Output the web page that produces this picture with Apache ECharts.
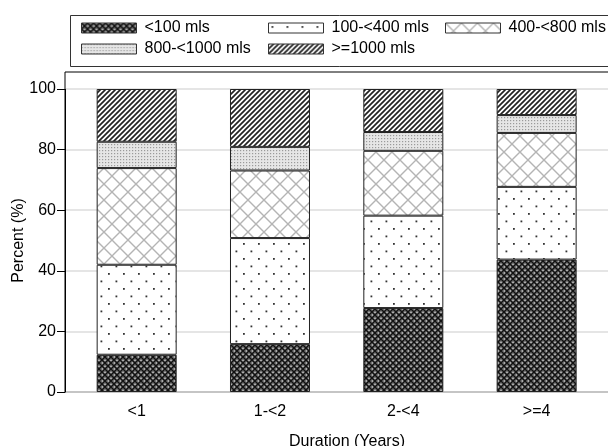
<!DOCTYPE html>
<html>
<head>
<meta charset="utf-8">
<script src="https://cdn.jsdelivr.net/npm/echarts@6/dist/echarts.min.js"></script>
<style>
  html, body { margin: 0; padding: 0; background: #fff; }
  #chart { width: 608px; height: 446px; }
</style>
</head>
<body>
<div id="chart"></div>
<script>
var categories = ["<1", "1-<2", "2-<4", ">=4"];
var seriesNames = ["<100 mls", "100-<400 mls", "400-<800 mls", "800-<1000 mls", ">=1000 mls"];
var lt100 = [12.3, 15.8, 27.7, 43.7];
var r100to400 = [29.7, 35.0, 30.5, 24.0];
var r400to800 = [31.9, 22.3, 21.4, 17.8];
var r800to1000 = [8.7, 7.8, 6.2, 5.9];
var ge1000 = [17.4, 19.1, 14.2, 8.6];
var yTicks = [0, 20, 40, 60, 80, 100];

// small canvas tiles used as fill patterns
function tile(w, h, draw) {
  var c = document.createElement("canvas");
  c.width = w;
  c.height = h;
  var ctx = c.getContext("2d");
  ctx.fillStyle = "#fff";
  ctx.fillRect(0, 0, w, h);
  draw(ctx);
  return { image: c, repeat: "repeat" };
}

var patCross = tile(6, 6, function(ctx) {
  ctx.fillStyle = "#777";
  ctx.fillRect(0, 0, 6, 6);
  ctx.strokeStyle = "#111";
  ctx.lineWidth = 1.4;
  ctx.beginPath();
  ctx.moveTo(0, 0); ctx.lineTo(6, 6);
  ctx.moveTo(6, 0); ctx.lineTo(0, 6);
  ctx.stroke();
  ctx.fillStyle = "#e0e0e0";
  ctx.fillRect(2.5, 0, 1, 1);
  ctx.fillRect(0, 2.5, 1, 1);
});
var patDots = tile(15, 15, function(ctx) {
  ctx.fillStyle = "#333";
  ctx.fillRect(3, 3, 1.8, 1.8);
  ctx.fillRect(10.5, 10.5, 1.8, 1.8);
});
var patLattice = tile(16, 16, function(ctx) {
  ctx.strokeStyle = "#b4b4b4";
  ctx.lineWidth = 1.4;
  ctx.beginPath();
  ctx.moveTo(0, 0); ctx.lineTo(16, 16);
  ctx.moveTo(16, 0); ctx.lineTo(0, 16);
  ctx.stroke();
});
var patFine = tile(3, 3, function(ctx) {
  ctx.fillStyle = "#e6e6e6";
  ctx.fillRect(0, 0, 3, 3);
  ctx.fillStyle = "#9a9a9a";
  ctx.fillRect(0, 0, 1.2, 1.2);
});
var patHatch = tile(5, 5, function(ctx) {
  ctx.strokeStyle = "#222";
  ctx.lineWidth = 1.7;
  ctx.beginPath();
  ctx.moveTo(0, 5); ctx.lineTo(5, 0);
  ctx.moveTo(-1, 1); ctx.lineTo(1, -1);
  ctx.moveTo(4, 6); ctx.lineTo(6, 4);
  ctx.stroke();
});

var seriesData = [lt100, r100to400, r400to800, r800to1000, ge1000];
var fills = [patCross, patDots, patLattice, patFine, patHatch];

var series = seriesNames.map(function(name, i) {
  return {
    name: name,
    type: "bar",
    stack: "total",
    xAxisIndex: 2,
    yAxisIndex: 2,
    barWidth: 80,
    data: seriesData[i],
    itemStyle: {
      color: fills[i],
      borderColor: "#222",
      borderWidth: 1
    },
    emphasis: { disabled: true }
  };
});

var font = "Liberation Sans, Arial, sans-serif";
var legendText = { fontFamily: font, fontSize: 16, color: "#000", padding: [3, 0, 0, 3] };

function legendCol(left, names) {
  return {
    orient: "vertical",
    left: left,
    top: 15,
    itemWidth: 55,
    itemHeight: 10,
    itemGap: 5,
    selectedMode: false,
    icon: "rect",
    itemStyle: { borderColor: "#333", borderWidth: 1 },
    textStyle: legendText,
    data: names
  };
}

var hidden = {
  axisLine: { show: false },
  axisTick: { show: false },
  axisLabel: { show: false },
  splitLine: { show: false }
};

var chart = echarts.init(document.getElementById("chart"));
chart.setOption({
  backgroundColor: "#fff",
  animation: false,
  legend: [
    legendCol(76, [seriesNames[0], seriesNames[3]]),
    legendCol(263, [seriesNames[1], seriesNames[4]]),
    legendCol(440, [seriesNames[2]])
  ],
  graphic: [
    {
      type: "rect",
      shape: { x: 70.5, y: 15.5, width: 600, height: 51 },
      style: { fill: "none", stroke: "#333", lineWidth: 1 },
      z: -1
    }
  ],
  grid: [
    // outer frame
    { left: 65, right: -21, top: 72, bottom: 54, outerBoundsMode: "none", containLabel: false, show: true, borderColor: "#000", borderWidth: 1, backgroundColor: "#fff" },
    // value axis, gridlines, titles
    { left: 65, right: -21, top: 89, bottom: 54, outerBoundsMode: "none", containLabel: false },
    // bars
    { left: 70, width: 533.3, top: 89, bottom: 54, outerBoundsMode: "none", containLabel: false }
  ],
  xAxis: [
    Object.assign({ gridIndex: 0, type: "value", min: 0, max: 1 }, hidden),
    Object.assign({
      gridIndex: 1,
      type: "value",
      min: 0,
      max: 1,
      name: "Duration (Years)",
      nameLocation: "middle",
      nameGap: 42,
      nameTextStyle: { fontFamily: font, fontSize: 16, color: "#000" }
    }, hidden),
    {
      gridIndex: 2,
      type: "category",
      data: categories,
      axisLine: { show: false },
      axisTick: { show: false },
      axisLabel: { margin: 12, fontFamily: font, fontSize: 16, color: "#000" }
    }
  ],
  yAxis: [
    Object.assign({ gridIndex: 0, type: "value", min: 0, max: 1 }, hidden),
    {
      gridIndex: 1,
      type: "value",
      min: yTicks[0],
      max: yTicks[yTicks.length - 1],
      interval: 20,
      name: "Percent (%)",
      nameLocation: "middle",
      nameGap: 38,
      nameMoveOverlap: false,
      nameTextStyle: { fontFamily: font, fontSize: 16, color: "#000" },
      axisLine: { show: true, lineStyle: { color: "#000", width: 1 } },
      axisTick: { show: true, length: 8, lineStyle: { color: "#000" } },
      axisLabel: { margin: 9, fontFamily: font, fontSize: 16, color: "#000" },
      splitLine: { show: true, lineStyle: { color: "#dcdcdc", width: 1.5 } }
    },
    {
      gridIndex: 2,
      type: "value",
      min: yTicks[0],
      max: yTicks[yTicks.length - 1],
      interval: 20,
      show: false
    }
  ],
  series: series
});
</script>
</body>
</html>
